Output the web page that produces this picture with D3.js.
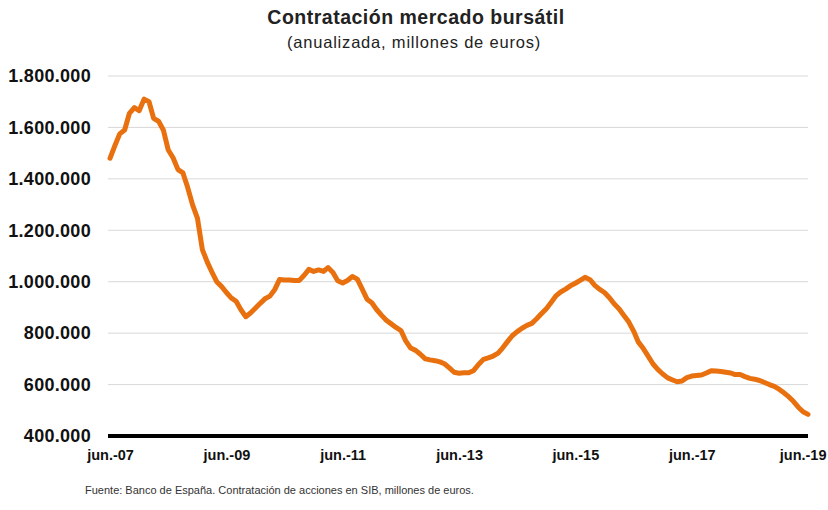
<!DOCTYPE html>
<html>
<head>
<meta charset="utf-8">
<script src="https://cdnjs.cloudflare.com/ajax/libs/d3/7.8.5/d3.min.js"></script>
<style>
  body { margin: 0; background: #fff; }
  text { font-family: "Liberation Sans", Arial, sans-serif; }
</style>
</head>
<body>
<svg width="828" height="510"></svg>
<script>
// serie mensual, de jun.-07 a jun.-19 (millones de euros anualizados)
var startMonth = new Date(2007, 5, 1);
var values = [
  1480000, 1528000, 1575000, 1590000, 1655000, 1677000, 1665000, 1710000, 1700000, 1635000,
  1624000, 1590000, 1512000, 1482000, 1436000, 1423000, 1366000, 1298000, 1247000, 1125000,
  1076000, 1039000, 1000000, 982000, 958000, 937000, 924000, 890000, 864000, 879000,
  898000, 917000, 935000, 944000, 970000, 1009000, 1007000, 1007000, 1005000, 1005000,
  1024000, 1048000, 1040000, 1046000, 1040000, 1055000, 1036000, 1004000, 995000, 1005000,
  1020000, 1010000, 972000, 932000, 918000, 891000, 869000, 850000, 836000, 822000,
  810000, 770000, 742000, 733000, 718000, 700000, 696000, 693000, 688000, 681000,
  665000, 648000, 644000, 646000, 646000, 655000, 678000, 698000, 704000, 711000,
  722000, 742000, 767000, 790000, 806000, 819000, 830000, 838000, 856000, 876000,
  895000, 920000, 946000, 960000, 971000, 984000, 994000, 1005000, 1017000, 1008000,
  986000, 970000, 958000, 938000, 913000, 895000, 869000, 844000, 808000, 765000,
  740000, 710000, 680000, 658000, 641000, 626000, 618000, 611000, 614000, 627000,
  633000, 635000, 637000, 645000, 654000, 653000, 651000, 648000, 645000, 639000,
  639000, 631000, 624000, 621000, 616000, 608000, 600000, 593000, 582000, 568000,
  552000, 535000, 512000, 494000, 484000
];
var yTicks = [400000, 600000, 800000, 1000000, 1200000, 1400000, 1600000, 1800000];
var xTickLabels = ["jun.-07", "jun.-09", "jun.-11", "jun.-13", "jun.-15", "jun.-17", "jun.-19"];

var data = values.map(function(v, i) { return {date: d3.timeMonth.offset(startMonth, i), value: v}; });

var svg = d3.select("svg"),
    margin = {top: 76, right: 20, bottom: 74, left: 108},
    width = +svg.attr("width") - margin.left - margin.right,
    height = +svg.attr("height") - margin.top - margin.bottom,
    g = svg.append("g").attr("transform", "translate(" + margin.left + "," + margin.top + ")");

var x = d3.scaleTime()
          .domain([startMonth, new Date(2019, 5, 1)])
          .range([2, width]);
var y = d3.scaleLinear()
          .domain([400000, 1800000])
          .range([height, 0]);

var fmt = d3.formatLocale({decimal: ",", thousands: ".", grouping: [3], currency: ["", "€"]}).format(",.0f");

// lineas de rejilla
g.append("g")
 .selectAll("line")
 .data(yTicks.slice(1))
 .enter().append("line")
 .attr("x1", 0)
 .attr("x2", width)
 .attr("y1", function(d) { return y(d); })
 .attr("y2", function(d) { return y(d); })
 .attr("stroke", "#d9d9d9")
 .attr("stroke-width", 1);

// eje y
var yAxis = g.append("g")
 .call(d3.axisLeft(y).tickValues(yTicks).tickFormat(fmt).tickSize(0).tickPadding(17));
yAxis.select(".domain").remove();
yAxis.selectAll("text")
 .attr("font-size", 18)
 .attr("font-weight", "bold")
 .attr("letter-spacing", 0.3)
 .attr("fill", "#111");

// la serie
var line = d3.line()
  .x(function(d) { return x(d.date); })
  .y(function(d) { return y(d.value); });

g.append("path")
 .datum(data)
 .attr("fill", "none")
 .attr("stroke", "#e8700e")
 .attr("stroke-width", 5)
 .attr("stroke-linejoin", "round")
 .attr("stroke-linecap", "round")
 .attr("d", line);

// eje x
var xTickDates = xTickLabels.map(function(d, i) { return new Date(2007 + 2 * i, 5, 1); });
var xAxis = g.append("g")
 .attr("transform", "translate(0," + height + ")")
 .call(d3.axisBottom(x).tickValues(xTickDates).tickFormat(function(d, i) { return xTickLabels[i]; }).tickSize(0).tickPadding(14));
xAxis.select(".domain").remove();
xAxis.selectAll("text")
 .attr("font-size", 14.5)
 .attr("font-weight", "bold")
 .attr("fill", "#111");
// la ultima etiqueta se ajusta al borde
xAxis.selectAll(".tick:last-of-type text")
 .attr("text-anchor", "end")
 .attr("x", 826 - margin.left - x(xTickDates[xTickDates.length - 1]));

g.append("line")
 .attr("x1", 0)
 .attr("x2", width)
 .attr("y1", height)
 .attr("y2", height)
 .attr("stroke", "#000")
 .attr("stroke-width", 4);

// titulos
svg.append("text")
   .attr("x", 416).attr("y", 24)
   .attr("text-anchor", "middle")
   .attr("font-size", 19.5)
   .attr("font-weight", "bold")
   .attr("letter-spacing", 0.5)
   .attr("fill", "#222")
   .text("Contratación mercado bursátil");
svg.append("text")
   .attr("x", 414).attr("y", 48)
   .attr("text-anchor", "middle")
   .attr("font-size", 16.5)
   .attr("letter-spacing", 0.8)
   .attr("fill", "#222")
   .text("(anualizada, millones de euros)");

svg.append("text")
   .attr("x", 85).attr("y", 494)
   .attr("font-size", 11)
   .attr("fill", "#333")
   .text("Fuente: Banco de España. Contratación de acciones en SIB, millones de euros.");
</script>
</body>
</html>
